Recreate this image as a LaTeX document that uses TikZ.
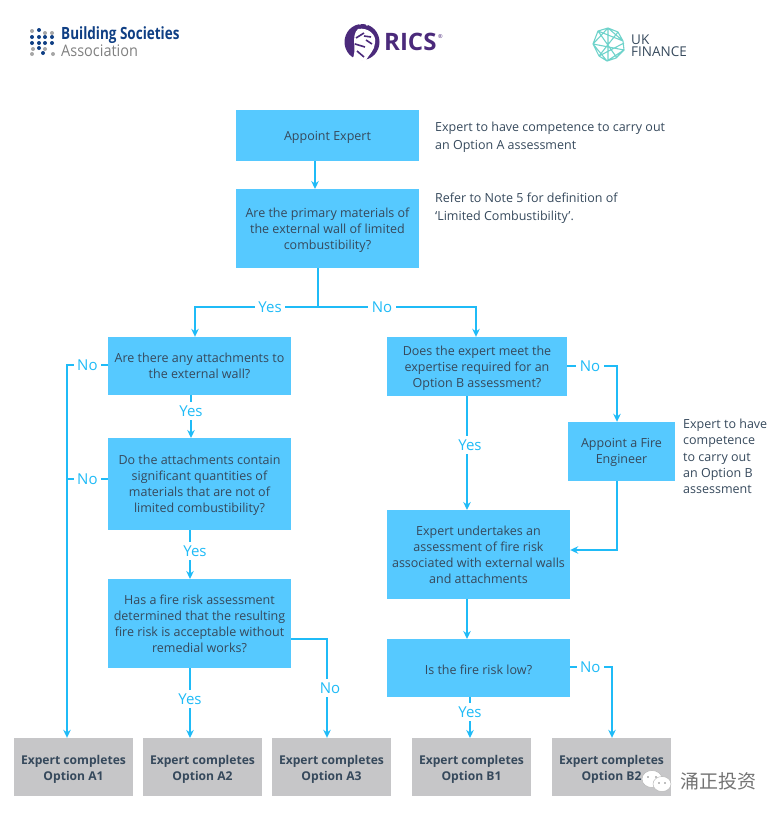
\documentclass[tikz,border=0pt]{standalone}
\usepackage{fontspec}
\setmainfont{Open Sans}
\newfontfamily\cjkfont{Noto Sans CJK SC}
\definecolor{boxblue}{HTML}{56C9FF}
\definecolor{boxgrey}{HTML}{C6C6C8}
\definecolor{flowblue}{HTML}{1FBBF7}
\definecolor{inktext}{HTML}{36495C}
\definecolor{bsablue}{HTML}{0F3F84}
\definecolor{ricspurple}{HTML}{4B2A7B}
\definecolor{ukteal}{HTML}{6FD3CB}
\usetikzlibrary{calc, arrows.meta}
\tikzset{>={Stealth[length=8pt, width=7.5pt]}}
\tikzset{
  qbox/.style={fill=boxblue, text=inktext, align=center, font=\fontsize{12.5}{16}\selectfont, inner sep=0pt},
  endbox/.style={fill=boxgrey, text=inktext, align=center, font=\fontsize{12.1}{16}\selectfont\bfseries, minimum width=119, minimum height=58, inner sep=0pt, twolines},
  oneline/.style={text height=13.6pt},
  twolines/.style={text height=29.6pt},
  threelines/.style={text height=45.6pt},
  fourlines/.style={text height=61.6pt},
  note/.style={text=inktext, align=left, anchor=north west, font=\fontsize{12.5}{18}\selectfont, inner sep=0pt},
  flow/.style={draw=flowblue, line width=1.3pt},
  tag/.style={fill=white, text=flowblue, font=\fontsize{15}{16}\selectfont, inner sep=3.5pt}
}
\begin{document}
\begin{tikzpicture}[x=1pt, y=-1pt]
\useasboundingbox (0,0) rectangle (779,814);
% logos
\foreach \px/\py/\pc in {32/31/gray!70, 39/30/bsablue, 45/33/gray!70, 52/33/gray!70, 32/37/bsablue, 39/37/bsablue, 45/37/bsablue, 52/37/bsablue, 32/43/bsablue, 39/43/bsablue, 45/43/bsablue, 52/43/bsablue, 33/49/gray!70, 39/48/bsablue, 45/49/gray!70, 32/54/gray!70, 43/53/bsablue, 53/54/gray!70}
  \fill[\pc] (\px,\py) circle (2);
\node[text=bsablue, anchor=west, inner sep=0pt, yscale=1.25, transform shape, font=\fontsize{13.5}{14}\selectfont\bfseries] (bsatop) at (61,35) {Building Societies};
\node[text=gray, anchor=west, inner sep=0pt, yscale=1.1, transform shape, font=\fontsize{14.5}{15}\selectfont] (bsalow) at (61,51) {Association};
\fill[ricspurple] (362,42) ellipse (17.5 and 18);
\fill[white] (358,29) .. controls (368,27) and (377,35) .. (375,43) .. controls (375,50) and (368,56) .. (366,60) -- (352,60) .. controls (358,50) and (350,36) .. (358,29);
\draw[ricspurple, line width=1.6pt] (356,38) -- (364,33) (355,44) -- (365,47) (357,51) -- (364,57) (366,40) -- (372,44) (364,36) -- (371,37);
\fill[white] (353,24) circle (1.3) (360,23.5) circle (1.3) (367,24.5) circle (1.3);
\node[text=ricspurple, anchor=west, inner sep=0pt, font=\fontsize{24}{24}\selectfont\bfseries] (ricsname) at (384,42) {RICS};
\node[text=ricspurple, anchor=west, inner sep=0pt, font=\fontsize{5.5}{6}\selectfont] (ricsmark) at (438,37) {®};
\draw[ukteal, line width=1.1pt] (598,31) -- (608,28) -- (618,32) -- (623,41) -- (624,50) -- (616,58) -- (607,61) -- (599,56) -- (593,44) -- cycle
  (598,31) -- (617,58) (618,32) -- (599,56) (608,28) -- (608,61) (593,44) -- (624,50) (598,31) -- (623,41) (599,56) -- (624,43) (608,28) -- (593,44) (608,28) -- (623,41) (607,61) -- (593,44) (607,61) -- (624,50);
\node[text=inktext, align=left, anchor=west, inner sep=0pt, font=\fontsize{13.5}{12.5}\selectfont] (ukname) at (631,45.5) {UK\\FINANCE};
% questions
\node[qbox, oneline, minimum width=183, minimum height=51] (appoint) at (327.5,135.5) {Appoint Expert};
\node[qbox, threelines, minimum width=183, minimum height=79] (primary) at (327.5,228.5) {Are the primary materials of\\the external wall of limited\\combustibility?};
\node[qbox, text height=25.6pt, minimum width=183, minimum height=58] (attach) at (199.5,366) {Are there any attachments to\\the external wall?};
\node[qbox, text height=59.6pt, minimum width=183, minimum height=92] (contain) at (199.5,484) {Do the attachments contain\\significant quantities of\\materials that are not of\\limited combustibility?};
\node[qbox, text height=57.6pt, minimum width=183, minimum height=89] (riskfra) at (199.5,623.5) {Has a fire risk assessment\\determined that the resulting\\fire risk is acceptable without\\remedial works?};
\node[qbox, threelines, minimum width=180, minimum height=59] (expertise) at (477,366.5) {Does the expert meet the\\expertise required for an\\Option B assessment?};
\node[qbox, text height=27.6pt, minimum width=107, minimum height=59] (engineer) at (621.5,451.5) {Appoint a Fire\\Engineer};
\node[qbox, text height=57.6pt, minimum width=183, minimum height=89] (undertake) at (478.5,554.5) {Expert undertakes an\\assessment of fire risk\\associated with external walls\\and attachments};
\node[qbox, oneline, minimum width=183, minimum height=58] (risklow) at (478.5,668) {Is the fire risk low?};
% outcomes
\node[endbox] (optaone) at (73.5,767) {Expert completes\\Option A1};
\node[endbox] (optatwo) at (202.5,767) {Expert completes\\Option A2};
\node[endbox] (optathree) at (331.5,767) {Expert completes\\Option A3};
\node[endbox] (optbone) at (471.5,767) {Expert completes\\Option B1};
\node[endbox] (optbtwo) at (611.5,767) {Expert completes\\Option B2};
% notes
\node[note] (notea) at (435,121.5) {Expert to have competence to carry out\\an Option A assessment};
\node[note] (noteb) at (435,192.5) {Refer to Note 5 for definition of\\‘Limited Combustibility’.};
\node[note, font=\fontsize{12.5}{16.25}\selectfont] (notec) at (683,419) {Expert to have\\competence\\to carry out\\an Option B\\assessment};
% connectors
\coordinate (split) at (318,307);
\coordinate (turnyes) at (195,307);
\coordinate (turnno) at (476,307);
\coordinate (railno) at (67,365);
\coordinate (raillow) at (67,479);
\coordinate (turnathree) at (327,639);
\coordinate (turnfire) at (617,366);
\coordinate (turnback) at (617,550);
\coordinate (turnbtwo) at (612,667);
\draw[flow, ->] (315,161) -- (315,189);
\draw[flow] (split |- primary.south) -- (split);
\draw[flow, ->] (split) -- node[tag, pos=0.39] (yestop) {Yes} (turnyes) -- (turnyes |- attach.north);
\draw[flow, ->] (split) -- node[tag, pos=0.405] (notop) {No} (turnno) -- (turnno |- expertise.north);
\draw[flow, ->] (railno -| attach.west) -- node[tag] (noattach) {No} (railno) -- (railno |- optaone.north);
\draw[flow] (raillow -| contain.west) -- node[tag, pos=0.5] (nocontain) {No} (raillow);
\draw[flow, ->] (191,395) -- node[tag, pos=0.37] (yesattach) {Yes} (191,438);
\draw[flow, ->] (190,530) -- node[tag, pos=0.43, xshift=5] (yescontain) {Yes} (190,579);
\draw[flow, ->] (190,668) -- node[tag, pos=0.44] (yesfra) {Yes} (190,738);
\draw[flow, ->] (turnathree -| riskfra.east) -- (turnathree) -- node[tag, pos=0.5, xshift=3] (nofra) {No} (turnathree |- optathree.north);
\draw[flow, ->] (expertise.east |- turnfire) -- node[tag, pos=0.46] (noexpert) {No} (turnfire) -- (turnfire |- engineer.north);
\draw[flow, ->] (467,396) -- node[tag, pos=0.43, xshift=3] (yesexpert) {Yes} (467,510);
\draw[flow, ->] (engineer.south -| turnback) -- (turnback) -- (turnback -| undertake.east);
\draw[flow, ->] (467,599) -- (467,639);
\draw[flow, ->] (470,697) -- node[tag, pos=0.37] (yeslow) {Yes} (470,738);
\draw[flow, ->] (turnbtwo -| risklow.east) -- node[tag, pos=0.48] (nolow) {No} (turnbtwo) -- (turnbtwo |- optbtwo.north);
% watermark
\fill[white, draw=gray!60, line width=0.4pt] (652,779) ellipse (10 and 8.5);
\fill[white, draw=gray!60, line width=0.4pt] (662,784) ellipse (9 and 7.5);
\fill[gray] (648,777) circle (0.8) (656,777) circle (0.8) (659,783) circle (0.8) (665,783) circle (0.8);
\node[text=gray!90!black, anchor=west, inner sep=0pt, font=\cjkfont\fontsize{19}{19}\selectfont] (mark) at (680,781) {涌正投资};
\end{tikzpicture}
\end{document}
